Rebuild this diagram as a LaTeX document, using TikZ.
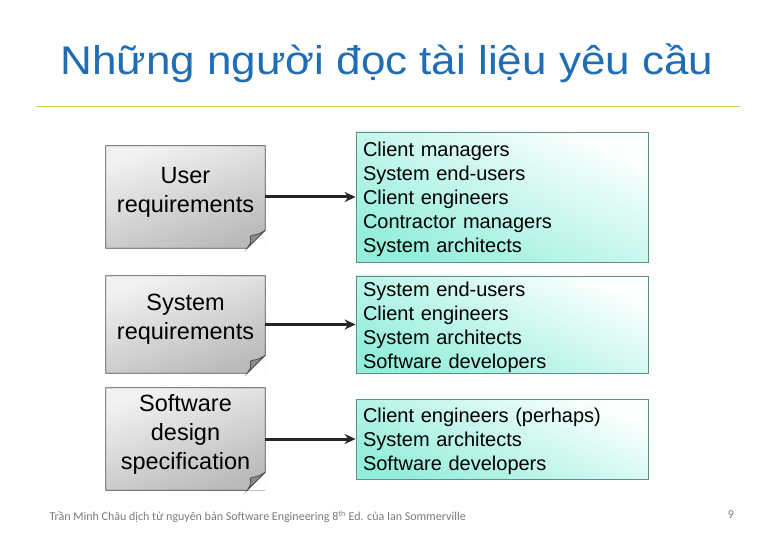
\documentclass[tikz,border=0pt]{standalone}
\usepackage{fontspec}
\setmainfont{Liberation Sans}
\newfontfamily\footfont{Carlito}
\usetikzlibrary{arrows.meta, calc, positioning}
\definecolor{slBlue}{HTML}{1F6DB5}
\definecolor{slGold}{HTML}{E2C75E}
\definecolor{slGrey}{HTML}{7A7A7A}
\definecolor{docTop}{HTML}{F2F2F2}
\definecolor{docBot}{HTML}{BABABA}
\definecolor{readTop}{HTML}{FBFFFE}
\definecolor{readBot}{HTML}{94EEDC}
\definecolor{readLine}{HTML}{5E8F88}
\tikzset{
  docbox/.style    = {minimum width=159pt, minimum height=100pt, inner sep=0pt,
                      align=center, font=\fontsize{23.5}{29}\selectfont, text depth=14.5pt,
                      top color=docTop, bottom color=docBot, shading angle=20},
  readbox/.style   = {draw=readLine, line width=0.8pt, minimum width=292pt,
                      inner xsep=7pt, inner ysep=0pt, align=left, text height=20pt,
                      font=\fontsize{20}{24}\selectfont, text width=278pt,
                      top color=readTop, bottom color=readBot, shading angle=-25},
  readarrow/.style = {-{Stealth[length=11pt, width=10pt]}, line width=3pt, black!85},
  foldline/.style  = {line width=0.8pt, black!70},
  footer/.style    = {slGrey, font=\footfont\fontsize{12}{14}\selectfont},
}
% folded corner on a document box
\newcommand{\docfold}[1]{%
  \fill[white] ([yshift=18pt]#1.south east) -- (#1.south east) -- ([xshift=-18pt]#1.south east) -- cycle;
  \draw[foldline] (#1.north west) -- (#1.north east) -- ([yshift=18pt]#1.south east)
    -- ([xshift=-18pt]#1.south east) -- (#1.south west) -- cycle;
  \filldraw[foldline, fill=black!45] ([yshift=18pt]#1.south east)
    .. controls ([xshift=-8pt,yshift=12pt]#1.south east) and ([xshift=-12pt,yshift=14pt]#1.south east) .. ([xshift=-15pt,yshift=12pt]#1.south east)
    .. controls ([xshift=-14pt,yshift=6pt]#1.south east) .. ([xshift=-18pt]#1.south east) -- cycle;
}

\begin{document}
\begin{tikzpicture}[x=1pt, y=-1pt]
  \useasboundingbox (0,0) rectangle (780,540);
  % title
  \node[slBlue, font=\fontsize{40}{42}\selectfont, xscale=1.1] (title) at (387,63) {Những người đọc tài liệu yêu cầu};
  \draw[slGold, line width=0.8pt] (36,106) -- (740,106);

  % documents
  \node[docbox, minimum height=102pt] (ureq) at (185.5,197) {User\\requirements};
  \node[docbox, minimum height=97pt]  (sreq) at (185.5,324.5) {System\\requirements};
  \node[docbox, minimum height=102pt] (sdes) at (185.5,439) {Software\\design\\specification};
  \docfold{ureq}
  \docfold{sreq}
  \docfold{sdes}

  % readers
  \node[readbox, minimum height=130pt] (ur) at (502,197) {Client managers\\System end-users\\Client engineers\\Contractor managers\\System architects};
  \node[readbox, minimum height=97pt] (sr) at (502,324.5) {System end-users\\Client engineers\\System architects\\Software developers};
  \node[readbox, minimum height=80pt] (sd) at (502,439) {Client engineers (perhaps)\\System architects\\Software developers};

  \draw[readarrow] (ureq.east) -- (ur.west);
  \draw[readarrow] (sreq.east) -- (sr.west);
  \draw[readarrow] (sdes.east) -- (sd.west);

  % footer
  \node[footer, anchor=west] (foot) at (46,517) {Trần Minh Châu dịch từ nguyên bản Software Engineering 8\textsuperscript{th} Ed. của Ian Sommerville};
  \node[footer] (pgno) at (731,515) {9};
\end{tikzpicture}
\end{document}
